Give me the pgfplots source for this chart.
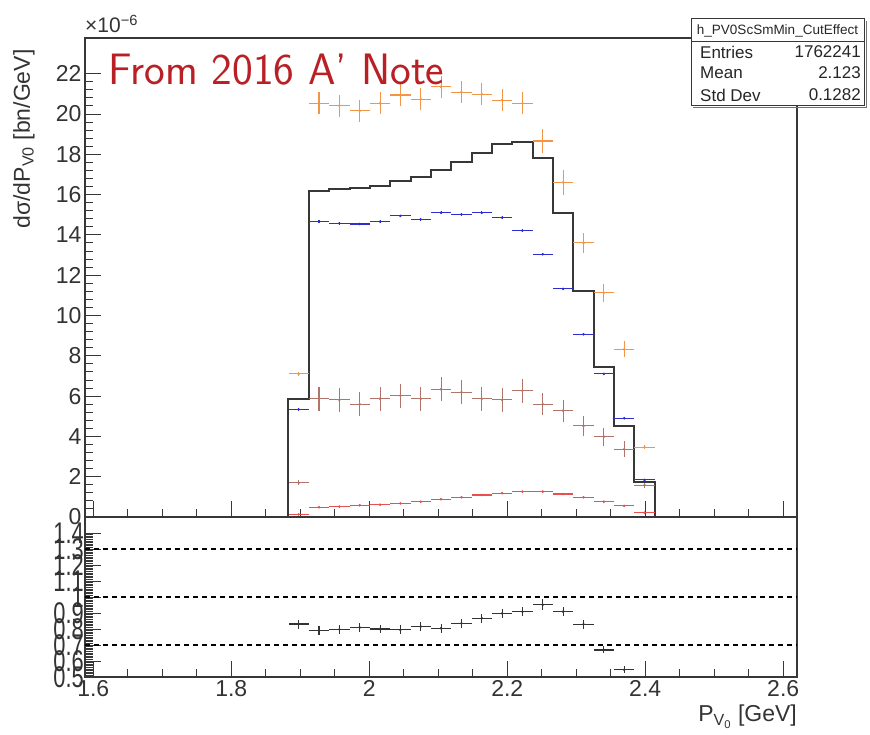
\documentclass[border=0pt]{standalone}
\usepackage{fontspec}
\setmainfont{Liberation Sans}
\usepackage{graphicx}
\usepackage{pgfplots}
\pgfplotsset{compat=1.18}

\definecolor{rootorange}{RGB}{242,150,70}
\definecolor{rootbrown}{RGB}{178,115,105}
\definecolor{rootblue}{RGB}{45,45,210}
\definecolor{rootred}{RGB}{232,80,80}
\definecolor{titlered}{RGB}{185,32,38}
\definecolor{framegray}{RGB}{55,55,55}

\pgfplotsset{
  rootaxis/.style={
    scale only axis, width=712pt,
    xmin=1.588, xmax=2.620,
    axis line style={framegray, line width=1.6pt},
    tick style={framegray, line width=0.9pt},
    major tick length=16pt, minor tick length=8pt,
    tick align=inside, tick pos=left,
    xtick={1.6,1.8,2,2.2,2.4,2.6}, minor x tick num=3,
    ticklabel style={font=\fontsize{23}{26}\selectfont, text=black!80},
    /pgf/number format/assume math mode=true,
  },
  % ROOT-style crosses: bin width horizontally, stat error vertically
  xerr/.style={only marks, mark=*, mark size=1.1pt, #1,
    error bars/.cd, x dir=both, x explicit, y dir=both, y explicit,
    error mark=none, error bar style={line width=1.1pt, #1}},
}

\begin{document}
\begin{tikzpicture}[x=1pt,y=1pt]
\path[use as bounding box] (0,0) rectangle (870,735);

% upper panel
\begin{axis}[rootaxis, height=479pt, at={(85pt,218pt)}, anchor=south west,
  ymin=0, ymax=23.77, ytick={0,2,4,6,8,10,12,14,16,18,20,22},
  minor y tick num=4, xticklabels={}]

\addplot[const plot, framegray, line width=2pt] coordinates {
  (1.8829,0) (1.8829,5.84) (1.9124,16.20) (1.9419,16.27) (1.9714,16.34)
  (2.0009,16.43) (2.0304,16.69) (2.0599,16.89) (2.0894,17.22) (2.1188,17.63)
  (2.1483,18.05) (2.1778,18.50) (2.2073,18.63) (2.2368,17.80) (2.2663,15.10)
  (2.2958,11.23) (2.3253,7.46) (2.3548,4.52) (2.3843,1.75) (2.4138,1.75)
  (2.4138,0)};

\addplot[xerr=rootred] coordinates {
  (1.8977,0.13) +- (0.01474,0.02) (1.9272,0.48) +- (0.01474,0.02)
  (1.9567,0.51) +- (0.01474,0.02) (1.9862,0.58) +- (0.01474,0.02)
  (2.0157,0.61) +- (0.01474,0.02) (2.0451,0.68) +- (0.01474,0.02)
  (2.0746,0.76) +- (0.01474,0.02) (2.1041,0.88) +- (0.01474,0.02)
  (2.1336,0.98) +- (0.01474,0.02) (2.1631,1.09) +- (0.01474,0.02)
  (2.1926,1.18) +- (0.01474,0.02) (2.2220,1.26) +- (0.01474,0.02)
  (2.2515,1.26) +- (0.01474,0.02) (2.2810,1.14) +- (0.01474,0.02)
  (2.3105,0.98) +- (0.01474,0.02) (2.3400,0.76) +- (0.01474,0.02)
  (2.3695,0.55) +- (0.01474,0.02) (2.3990,0.21) +- (0.01474,0.02)};

\addplot[xerr=rootbrown] coordinates {
  (1.8977,1.70) +- (0.01474,0.12) (1.9272,5.87) +- (0.01474,0.6)
  (1.9567,5.81) +- (0.01474,0.6) (1.9862,5.59) +- (0.01474,0.6)
  (2.0157,5.87) +- (0.01474,0.6) (2.0451,6.02) +- (0.01474,0.6)
  (2.0746,5.87) +- (0.01474,0.6) (2.1041,6.34) +- (0.01474,0.6)
  (2.1336,6.19) +- (0.01474,0.6) (2.1631,5.87) +- (0.01474,0.6)
  (2.1926,5.81) +- (0.01474,0.6) (2.2220,6.27) +- (0.01474,0.6)
  (2.2515,5.59) +- (0.01474,0.55) (2.2810,5.28) +- (0.01474,0.55)
  (2.3105,4.52) +- (0.01474,0.5) (2.3400,3.99) +- (0.01474,0.45)
  (2.3695,3.36) +- (0.01474,0.4) (2.3990,1.58) +- (0.01474,0.12)};

\addplot[xerr=rootblue] coordinates {
  (1.8977,5.34) +- (0.01474,0.06) (1.9272,14.66) +- (0.01474,0.06)
  (1.9567,14.57) +- (0.01474,0.06) (1.9862,14.54) +- (0.01474,0.06)
  (2.0157,14.66) +- (0.01474,0.06) (2.0451,14.94) +- (0.01474,0.06)
  (2.0746,14.77) +- (0.01474,0.06) (2.1041,15.10) +- (0.01474,0.06)
  (2.1336,15.02) +- (0.01474,0.06) (2.1631,15.10) +- (0.01474,0.06)
  (2.1926,14.86) +- (0.01474,0.06) (2.2220,14.21) +- (0.01474,0.06)
  (2.2515,13.04) +- (0.01474,0.06) (2.2810,11.32) +- (0.01474,0.06)
  (2.3105,9.07) +- (0.01474,0.06) (2.3400,7.10) +- (0.01474,0.06)
  (2.3695,4.90) +- (0.01474,0.06) (2.3990,1.84) +- (0.01474,0.06)};

\addplot[xerr=rootorange] coordinates {
  (1.8977,7.10) +- (0.01474,0.08) (1.9272,20.53) +- (0.01474,0.55)
  (1.9567,20.41) +- (0.01474,0.55) (1.9862,20.16) +- (0.01474,0.55)
  (2.0157,20.53) +- (0.01474,0.55) (2.0451,20.94) +- (0.01474,0.55)
  (2.0746,20.73) +- (0.01474,0.55) (2.1041,21.35) +- (0.01474,0.55)
  (2.1336,21.08) +- (0.01474,0.55) (2.1631,20.98) +- (0.01474,0.55)
  (2.1926,20.69) +- (0.01474,0.55) (2.2220,20.53) +- (0.01474,0.55)
  (2.2515,18.66) +- (0.01474,0.6) (2.2810,16.60) +- (0.01474,0.6)
  (2.3105,13.60) +- (0.01474,0.5) (2.3400,11.13) +- (0.01474,0.45)
  (2.3695,8.32) +- (0.01474,0.4) (2.3990,3.46) +- (0.01474,0.1)};
\end{axis}

% lower panel (ratio)
\begin{axis}[rootaxis, height=160pt, at={(85pt,58pt)}, anchor=south west,
  ymin=0.5, ymax=1.5, ytick={0.5,0.6,0.7,0.8,0.9,1.0,1.1,1.2,1.3,1.4},
  minor y tick num=9,
  yticklabel={\scalebox{0.95}[1.3]{\pgfmathprintnumber{\tick}}},
  yticklabel style={inner sep=1pt}]

\addplot[black, dashed, dash pattern=on 5pt off 4pt, line width=1.2pt]
  coordinates {(1.588,1.3) (2.620,1.3)};
\addplot[black, dashed, dash pattern=on 5pt off 4pt, line width=1.2pt]
  coordinates {(1.588,1.0) (2.620,1.0)};
\addplot[black, dashed, dash pattern=on 5pt off 4pt, line width=1.2pt]
  coordinates {(1.588,0.7) (2.620,0.7)};

\addplot[xerr=black!80] coordinates {
  (1.8977,0.831) +- (0.01474,0.028) (1.9272,0.792) +- (0.01474,0.028)
  (1.9567,0.797) +- (0.01474,0.028) (1.9862,0.810) +- (0.01474,0.028)
  (2.0157,0.800) +- (0.01474,0.028) (2.0451,0.795) +- (0.01474,0.028)
  (2.0746,0.815) +- (0.01474,0.028) (2.1041,0.805) +- (0.01474,0.028)
  (2.1336,0.835) +- (0.01474,0.028) (2.1631,0.867) +- (0.01474,0.028)
  (2.1926,0.897) +- (0.01474,0.028) (2.2220,0.908) +- (0.01474,0.028)
  (2.2515,0.952) +- (0.01474,0.035) (2.2810,0.908) +- (0.01474,0.028)
  (2.3105,0.830) +- (0.01474,0.028) (2.3400,0.669) +- (0.01474,0.022)
  (2.3695,0.545) +- (0.01474,0.022)};
\end{axis}

% titles and labels
\node[rotate=90, anchor=east, text=black!80, font=\fontsize{23}{26}\selectfont]
  at (24,689) {dσ/dP\textsubscript{V0} [bn/GeV]};
\node[anchor=base west, inner sep=0, text=black!80, font=\fontsize{21}{24}\selectfont]
  at (85,702) {×10\textsuperscript{−6}};
\node[anchor=base east, inner sep=0, text=black!80, font=\fontsize{23}{26}\selectfont]
  at (797,13) {P\textsubscript{V\textsubscript{0}} [GeV]};
\node[anchor=base west, inner sep=0, text=titlered, font=\sffamily\fontsize{44}{48}\selectfont]
  at (108,650) {From 2016 A’ Note};

% stats box
\draw[framegray!70, line width=1pt] (866,714) -- (866,627) -- (693,627);
\draw[fill=white, draw=framegray, line width=1pt] (691,716) rectangle (864,629);
\draw[framegray, line width=1pt] (691,693) -- (864,693);
\node[text=black!85, font=\fontsize{13.5}{15}\selectfont] at (777.5,704.5) {h\_PV0ScSmMin\_CutEffect};
\begin{scope}[every node/.style={text=black!85, font=\fontsize{17}{19}\selectfont, inner sep=0}]
\node[anchor=west] at (700,683) {Entries};
\node[anchor=east] at (861,683) {1762241};
\node[anchor=west] at (700,662) {Mean};
\node[anchor=east] at (861,662) {2.123};
\node[anchor=west] at (700,640) {Std Dev};
\node[anchor=east] at (861,640) {0.1282};
\end{scope}
\end{tikzpicture}
\end{document}
